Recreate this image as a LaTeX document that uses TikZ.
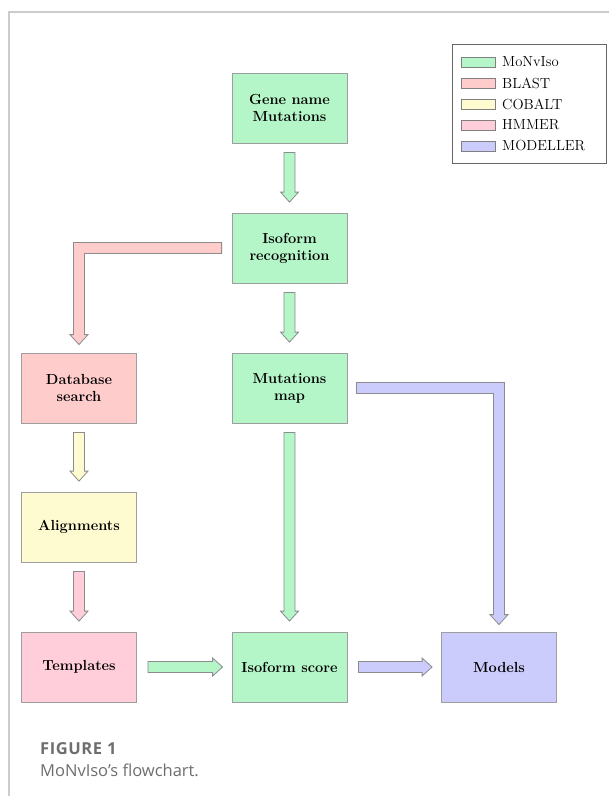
\documentclass[tikz,border=0pt]{standalone}
\usepackage{fontspec}
\newfontfamily\capfont{Open Sans}
\newfontfamily\capfontsp[LetterSpace=3.5]{Open Sans}
\usetikzlibrary{calc}
\definecolor{cmon}{RGB}{181,246,200}
\definecolor{cblast}{RGB}{255,204,204}
\definecolor{ccob}{RGB}{255,251,208}
\definecolor{chmm}{RGB}{255,206,218}
\definecolor{cmod}{RGB}{204,204,252}
\definecolor{frame}{RGB}{204,204,204}
\definecolor{capgray}{RGB}{110,110,110}
\newcommand\fatdown[3]{\path[#3] let \p1=(#1.south), \p2=(#2.north) in
  (\x1-5.5pt,\y1-9pt) -- (\x1+5.5pt,\y1-9pt) -- (\x1+5.5pt,\y2+20.5pt) -- (\x1+9pt,\y2+20.5pt)
  -- (\x1,\y2+10.5pt) -- (\x1-9pt,\y2+20.5pt) -- (\x1-5.5pt,\y2+20.5pt) -- cycle;}
\newcommand\fatright[3]{\path[#3] let \p1=(#1.east), \p2=(#2.west) in
  (\x1+11pt,\y1+5.5pt) -- (\x2-19pt,\y1+5.5pt) -- (\x2-19pt,\y1+9pt) -- (\x2-9pt,\y1)
  -- (\x2-19pt,\y1-9pt) -- (\x2-19pt,\y1-5.5pt) -- (\x1+11pt,\y1-5.5pt) -- cycle;}
\begin{document}
\begin{tikzpicture}[x=1pt,y=-1pt,
  box/.style={rectangle, draw=black!38, line width=0.8pt, minimum width=115pt, minimum height=70pt,
    inner sep=0pt, align=center, font=\fontsize{14.6}{17}\selectfont\bfseries},
  arr/.style={draw=black!45, line width=0.8pt, line join=miter},
  swatch/.style={rectangle, draw=black!50, line width=0.8pt, minimum width=34pt, minimum height=10pt, inner sep=0pt},
  legtext/.style={anchor=west, inner sep=0pt, font=\fontsize{14.6}{17}\selectfont},
  captext/.style={anchor=base west, inner sep=0pt, text=capgray}]
\useasboundingbox (0,0) rectangle (609,796);
\fill[white] (0,0) rectangle (609,796);
% frame
\coordinate (fc) at (9,12);
\coordinate (fr) at (609,12);
\coordinate (fb) at (9,796);
\draw[frame, line width=1.5pt] (fr) -- (fc) -- (fb);
% boxes
\node[box, fill=cmon] (gene) at (289.5,108) {Gene name\\Mutations};
\node[box, fill=cmon] (iso) at (289.5,248) {Isoform\\recognition};
\node[box, fill=cmon] (mut) at (289.5,388) {Mutations\\map};
\node[box, fill=cblast] (db) at (79,388) {Database\\search};
\node[box, fill=ccob] (align) at (79,527) {Alignments};
\node[box, fill=chmm] (templ) at (79,667) {Templates};
\node[box, fill=cmon] (score) at (289.5,667) {Isoform score};
\node[box, fill=cmod] (models) at (499,667) {Models};
% straight arrows
\fatdown{gene}{iso}{arr, fill=cmon}
\fatdown{iso}{mut}{arr, fill=cmon}
\fatdown{mut}{score}{arr, fill=cmon}
\fatdown{db}{align}{arr, fill=ccob}
\fatdown{align}{templ}{arr, fill=chmm}
\fatright{templ}{score}{arr, fill=cmon}
\fatright{score}{models}{arr, fill=cmod}
% bent arrow iso -> db
\path[arr, fill=cblast] let \p1=(iso.west), \p2=(db.north) in
  (\x1-10pt,\y1+5.5pt) -- (\x2-5.5pt,\y1+5.5pt) -- (\x2-5.5pt,\y2+18pt) -- (\x2-9pt,\y2+18pt)
  -- (\x2,\y2+8pt) -- (\x2+9pt,\y2+18pt) -- (\x2+5.5pt,\y2+18pt) -- (\x2+5.5pt,\y1-5.5pt)
  -- (\x1-10pt,\y1-5.5pt) -- cycle;
% bent arrow mut -> models
\path[arr, fill=cmod] let \p1=(mut.east), \p2=(models.north) in
  (\x1+9pt,\y1+5.5pt) -- (\x2+5.5pt,\y1+5.5pt) -- (\x2+5.5pt,\y2+17pt) -- (\x2+9pt,\y2+17pt)
  -- (\x2,\y2+7pt) -- (\x2-9pt,\y2+17pt) -- (\x2-5.5pt,\y2+17pt) -- (\x2-5.5pt,\y1-5.5pt)
  -- (\x1+9pt,\y1-5.5pt) -- cycle;
% legend
\node[rectangle, draw=black!60, line width=0.8pt, minimum width=154pt, minimum height=119pt, inner sep=0pt] (legend) at (529,103.5) {};
\node[swatch, fill=cmon] (sw1) at (478,62) {};
\node[swatch, fill=cblast] (sw2) at (478,83) {};
\node[swatch, fill=ccob] (sw3) at (478,104) {};
\node[swatch, fill=chmm] (sw4) at (478,125) {};
\node[swatch, fill=cmod] (sw5) at (478,146) {};
\node[legtext] (lt1) at (502,62) {MoNvIso};
\node[legtext] (lt2) at (502,83) {BLAST};
\node[legtext] (lt3) at (502,104) {COBALT};
\node[legtext] (lt4) at (502,125) {HMMER};
\node[legtext] (lt5) at (502,146) {MODELLER};
% caption
\node[captext, font=\capfontsp\bfseries\fontsize{16.5}{20}\selectfont] (fig) at (40,754) {FIGURE 1};
\node[captext, font=\capfont\fontsize{16.5}{20}\selectfont] (cap) at (40,776) {MoNvIso’s flowchart.};
\end{tikzpicture}
\end{document}
